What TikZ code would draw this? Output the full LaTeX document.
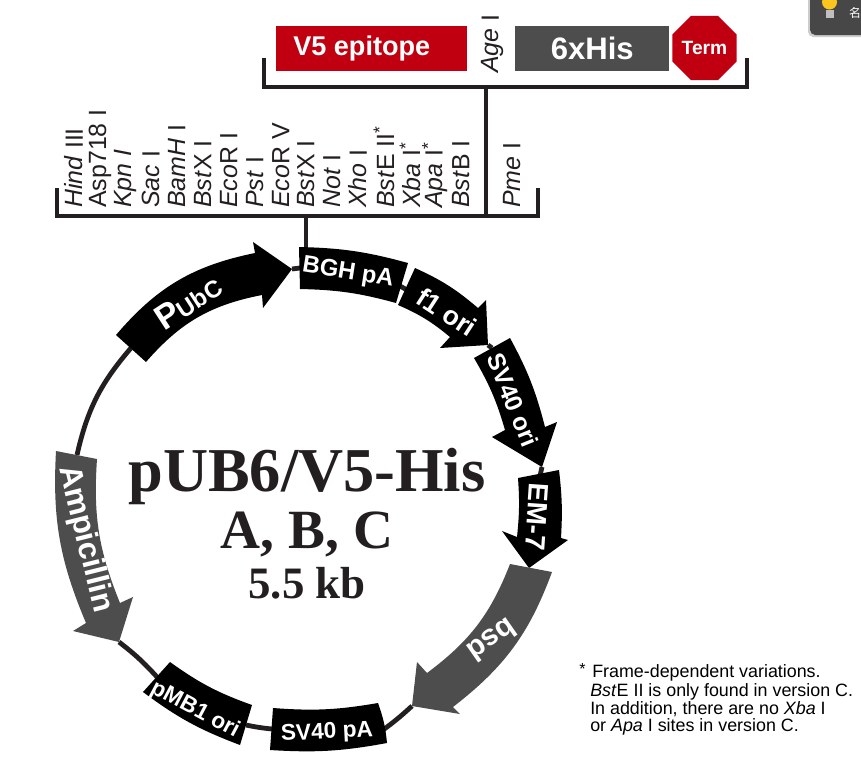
\documentclass[tikz,border=0pt]{standalone}
\usepackage{fontspec}
\setmainfont{Liberation Sans}
\newfontfamily\serifbold{Liberation Serif}
\newfontfamily\cjk{Noto Sans CJK SC}
\usepackage{tikz}
\usetikzlibrary{shapes.geometric,positioning}

\definecolor{ink}{HTML}{231F20}
\definecolor{markerred}{HTML}{C00010}
\definecolor{markergrey}{HTML}{4D4D4D}

\newcommand{\fsize}[1]{\fontsize{#1}{#1}\selectfont}

\begin{document}
\begin{tikzpicture}[
		x=0.75pt,
		y=-0.75pt,
		font=\bfseries,
		backbone/.style={
			draw=ink,
			line width=3.6pt
		},
		bracket/.style={
			draw=ink,
			line width=3.5pt,
			line cap=butt
		},
		gene/.style={
			fill=black
		},
		marker/.style={
			fill=markergrey
		},
		genelabel/.style={
			text=white,
			inner sep=0pt,
			font=\bfseries\fsize{#1}
		},
		genelabel/.default=17,
		site/.style={
			text=ink,
			rotate=90,
			anchor=west,
			inner sep=0pt,
			font=\normalfont\fsize{18.7}
		},
		tagbox/.style={
			text=white,
			inner sep=0pt,
			minimum height=33.75pt
		},
		titleline/.style={
			text=ink,
			inner sep=0pt,
			anchor=base,
			font=\serifbold\bfseries\fsize{#1}
		},
		note/.style={
			text=black,
			inner sep=0pt,
			anchor=base west,
			font=\normalfont\fsize{13.4}
		}
	]
	\useasboundingbox (0,0) rectangle (861,758);

	% Browser hint in the corner
	\fill[gray!40, rounded corners=4pt] (808,-10) rectangle (870,37);
	\fill[black!72, rounded corners=4pt] (810,-10) rectangle (870,35);
	\fill[yellow!55!orange!90] (829.5,2) circle (7.5);
	\fill[gray!50] (825.5,10) rectangle (833.5,18);
	\node[inner sep=0pt, text=white, font=\cjk\fsize{9}] (hint) at (855,13) {名};

	% Tags above the cloning site
	\node[tagbox, fill=markerred, minimum width=143.25pt, font=\bfseries\fsize{20.3}, anchor=north west] (v5) at (276,26) {\hspace*{-15pt}V5 epitope};
	\node[tagbox, fill=markergrey, minimum width=115.5pt, font=\bfseries\fsize{23.3}, anchor=north west] (his) at (515,26) {6xHis};
	\node[fill=markerred, regular polygon, regular polygon sides=8, minimum size=45pt, inner sep=0pt,
		text=white, font=\bfseries\fsize{14.4}] (term) at (704.5,48) {Term};
	\node[site] (age) at (493,73) {\textit{Age} I};

	% Restriction sites
	\node[site] (hind) at (74,208) {\textit{Hind} III};
	\node[site] (asp) at (100,208) {Asp718 I};
	\node[site] (kpn) at (126,208) {\textit{Kpn I}};
	\node[site] (sac) at (151,208) {\textit{Sac} I};
	\node[site] (bamh) at (177,208) {\textit{BamH} I};
	\node[site] (bstx1) at (203,208) {\textit{Bst}X I};
	\node[site] (ecor1) at (229,208) {\textit{Eco}R I};
	\node[site] (pst) at (255,208) {\textit{Pst} I};
	\node[site] (ecor5) at (281,208) {\textit{Eco}R V};
	\node[site] (bstx2) at (306,208) {\textit{Bst}X I};
	\node[site] (not) at (332,208) {\textit{Not} I};
	\node[site] (xho) at (358,208) {\textit{Xho} I};
	\node[site] (bste) at (384,208) {\textit{Bst}E II\textsuperscript{*}};
	\node[site] (xba) at (410,208) {\textit{Xba} I\textsuperscript{*}};
	\node[site] (apa) at (435,208) {\textit{Apa} I\textsuperscript{*}};
	\node[site] (bstb) at (461,208) {\textit{Bst}B I};
	\node[site] (pme) at (512,208) {\textit{Pme} I};

	% Brackets
	\coordinate (upleft) at (264,58);
	\coordinate (upright) at (747,58);
	\coordinate (lowleft) at (57,188);
	\coordinate (lowright) at (538,188);
	\coordinate (upjoin) at (486,87);
	\coordinate (lowjoin) at (486,216);
	\coordinate (bgh top) at (306,248);
	\coordinate (mapjoin) at (306,216);
	\draw[bracket] (upleft) |- (upright |- upjoin) -- (upright);
	\draw[bracket] (lowleft) |- (lowright |- lowjoin) -- (lowright);
	\draw[bracket] (upjoin) -- (lowjoin);
	\draw[bracket] (mapjoin) -- (bgh top);

	% Backbone
	\coordinate (pubc tail) at (131,348);
	\coordinate (pubc tip) at (292,269);
	\coordinate (bgh left) at (300,268);
	\coordinate (bgh right) at (400,286);
	\coordinate (f1 left) at (407,290);
	\coordinate (f1 tip) at (488,345);
	\coordinate (sv40ori tail) at (492,348);
	\coordinate (sv40ori tip) at (542,467);
	\coordinate (em7 tail) at (540,476);
	\coordinate (amp tail) at (77,455);
	\coordinate (amp tip) at (119,642);
	\coordinate (pmb left) at (157,677);
	\coordinate (pmb right) at (246,725);
	\coordinate (sv40pa left) at (272,729);
	\coordinate (sv40pa right) at (383,730);
	\coordinate (bsd tip) at (412,706);
	\draw[backbone] (amp tail) to[bend left=14] (pubc tail);
	\draw[backbone] (pubc tip) -- (bgh left);
	\draw[backbone] (bgh right) -- (f1 left);
	\draw[backbone] (sv40ori tip) -- (em7 tail);
	\draw[backbone] (f1 tip) -- (sv40ori tail);
	\draw[backbone] (pmb left) to[bend right=5] (amp tip);
	\draw[backbone] (pmb right) to[bend right=3] (sv40pa left);
	\draw[backbone] (sv40pa right) to[bend right=3] (bsd tip);

	% Features on the map
	\fill[gene] (116,335) to[bend left=19] (255,253) -- (253,242) -- (pubc tip) -- (263,308) -- (262,295)
		to[bend right=19] (146,362) -- cycle;
	\fill[gene] (299,247) to[bend left=7] (408,263) -- (396,303) to[bend right=7] (300,289) -- cycle;
	\fill[gene] (415,268) to[bend left=8] (478,308) -- (486,300) -- (f1 tip) -- (440,348) -- (450,337)
		to[bend right=8] (398,305) -- cycle;
	\fill[gene] (510,338) to[bend left=7] (545,427) -- (557,422) -- (sv40ori tip) -- (492,437) -- (505,430)
		to[bend right=7] (474,358) -- cycle;
	\fill[gene] (559,470) to[bend left=5] (561,538) -- (568,540) -- (529,568) -- (502,531) -- (517,537)
		to[bend right=5] (518,478) -- cycle;
	\fill[marker] (552,572) to[bend left=16] (453,707) -- (460,714) -- (bsd tip) -- (417,662) -- (427,673)
		to[bend right=16] (510,564) -- cycle;
	\fill[gene] (378,703) to[bend left=7] (387,743) to[bend left=7] (270,750) -- (273,708) to[bend right=7] cycle;
	\fill[gene] (252,705) -- (240,745) to[bend left=8] (143,692) -- (170,662) to[bend right=8] cycle;
	\fill[marker] (56,451) to[bend right=13] (86,623) -- (73,631) -- (amp tip) -- (133,597) -- (120,603)
		to[bend left=13] (97,459) -- cycle;

	% Feature labels
	\node[genelabel, rotate=33] (pubc) at (188,302) {\fsize{26}P\fsize{18}UbC};
	\node[genelabel=18, rotate=-9] (bgh) at (348,273) {BGH pA};
	\node[genelabel=20, rotate=-33] (f1) at (447,312) {f1 ori};
	\node[genelabel=18.5, rotate=-68] (sv40ori) at (513,400) {SV40 ori};
	\node[genelabel=21, rotate=-94] (em7) at (537,517) {EM-7};
	\node[genelabel=22, rotate=-145] (bsd) at (492,640) {bsd};
	\node[genelabel=17, rotate=3] (sv40pa) at (327,733) {SV40 pA};
	\node[genelabel=17, rotate=-28] (pmb) at (195,710) {pMB1 ori};
	\node[genelabel=23.5, rotate=-76] (amp) at (85,539) {Ampicillin};

	% Plasmid name
	\node[titleline=46.8] (name) at (307,491) {pUB6/V5-His};
	\node[titleline=41.5] (frames) at (307,548) {A, B, C};
	\node[titleline=33.7] (size) at (307,598) {5.5 kb};

	% Footnote
	\node[note, font=\normalfont\fsize{12}] (star) at (579,674) {*};
	\node[note] (note1) at (592,677) {Frame-dependent variations.};
	\node[note] (note2) at (590,696) {\textit{Bst}E II is only found in version C.};
	\node[note] (note3) at (590,714) {In addition, there are no \textit{Xba} I};
	\node[note] (note4) at (590,731) {or \textit{Apa} I sites in version C.};
\end{tikzpicture}
\end{document}
